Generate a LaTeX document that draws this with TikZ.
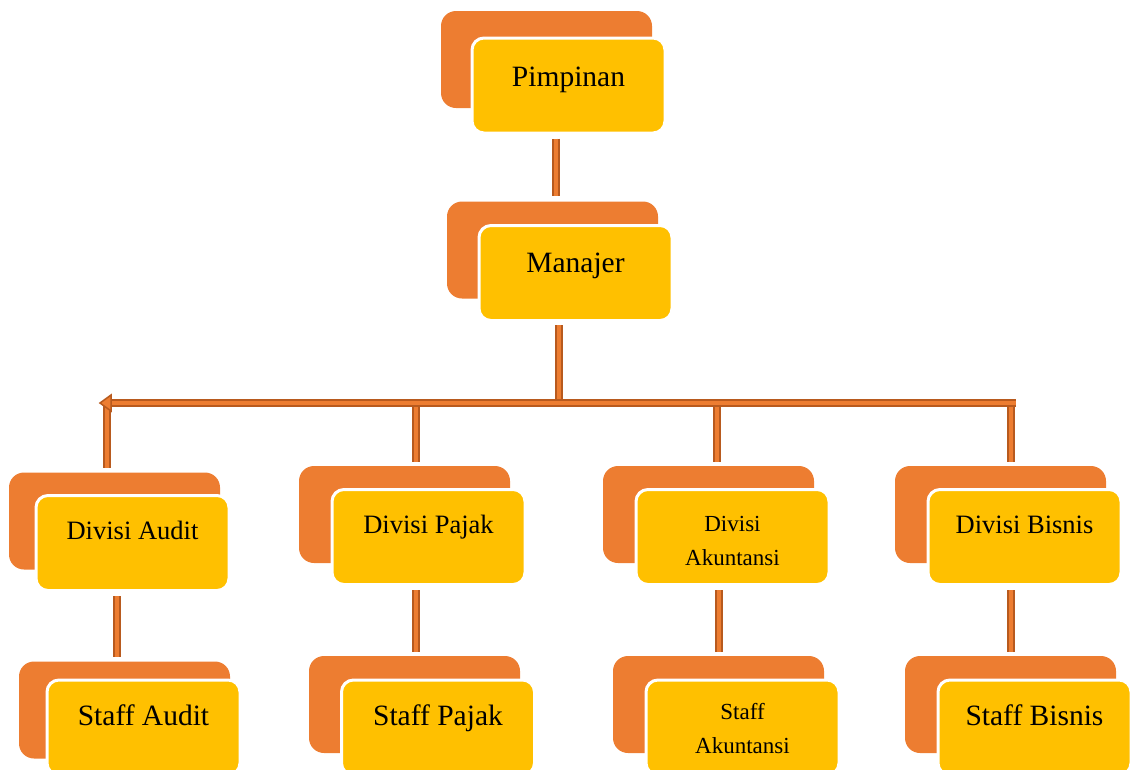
\documentclass[tikz,border=0pt]{standalone}
\usepackage{fontspec}
\setmainfont{Liberation Serif}
\definecolor{corange}{HTML}{ED7D31}
\definecolor{cyellow}{HTML}{FFC000}
\definecolor{cdark}{HTML}{B85A1E}
\begin{document}
\begin{tikzpicture}[x=1pt,y=-1pt,
  backbox/.style={rectangle, rounded corners=15pt, fill=corange, minimum width=211pt, minimum height=97pt, inner sep=0pt},
  frontbox/.style={rectangle, rounded corners=12pt, fill=cyellow, draw=white, line width=3pt, minimum width=193pt, minimum height=95pt, inner sep=0pt},
  lbl/.style={font=\fontsize{29.5}{34}\selectfont, text=black, inner sep=0pt},
  lbldiv/.style={font=\fontsize{26.5}{32}\selectfont, text=black, inner sep=0pt},
  lblsmall/.style={font=\fontsize{23}{34}\selectfont, text=black, inner sep=0pt, align=center},
  conn/.style={draw=cdark, line width=2pt, double=corange, double distance=3.5pt},
  hbar/.style={draw=cdark, line width=2pt, double=corange, double distance=4.5pt},
]
\useasboundingbox (0,0) rectangle (1130,769);
\clip (0,0) rectangle (1130,769);

% boxes
\node[backbox] (pimB) at (546.5,59.5) {};
\node[frontbox] (pimF) at (568.5,85.5) {};
\node[backbox] (manB) at (552.5,250) {};
\node[frontbox] (manF) at (575.5,273) {};

\node[backbox] (dAB) at (114.5,521) {};
\node[frontbox] (dAF) at (132.5,543) {};
\node[backbox] (dPB) at (404.5,514.5) {};
\node[frontbox] (dPF) at (428.5,537) {};
\node[backbox] (dKB) at (708.5,514.5) {};
\node[frontbox] (dKF) at (732.5,537) {};
\node[backbox] (dBB) at (1000.5,514.5) {};
\node[frontbox] (dBF) at (1024.5,537) {};

\node[backbox] (sAB) at (124.5,710) {};
\node[frontbox] (sAF) at (143.5,727.5) {};
\node[backbox] (sPB) at (414.5,704.5) {};
\node[frontbox] (sPF) at (438,727.5) {};
\node[backbox] (sKB) at (718.5,704.5) {};
\node[frontbox] (sKF) at (742.5,727.5) {};
\node[backbox] (sBB) at (1010.5,704.5) {};
\node[frontbox] (sBF) at (1034.5,727.5) {};

% labels
\node[lbl] (pimT) at ([yshift=5.5pt]pimF.center) {Pimpinan};
\node[lbl] (manT) at ([yshift=7pt]manF.center) {Manajer};
\node[lbldiv] (dAT) at ([yshift=13pt]dAF.center) {Divisi Audit};
\node[lbldiv] (dPT) at ([yshift=10pt]dPF.center) {Divisi Pajak};
\node[lblsmall] (dKT) at ([yshift=-4pt]dKF.center) {Divisi\\Akuntansi};
\node[lbldiv] (dBT) at ([yshift=12pt]dBF.center) {Divisi Bisnis};
\node[lbl] (sAT) at ([yshift=12.5pt]sAF.center) {Staff Audit};
\node[lbl] (sPT) at ([yshift=9.5pt]sPF.center) {Staff Pajak};
\node[lblsmall] (sKT) at ([yshift=-1pt]sKF.center) {Staff\\Akuntansi};
\node[lbl] (sBT) at ([yshift=12.5pt]sBF.center) {Staff Bisnis};

% connector columns
\coordinate (x1) at (556,0);
\coordinate (x2) at (559,0);
\coordinate (xa) at (107,0);
\coordinate (xp) at (416,0);
\coordinate (xk) at (717,0);
\coordinate (xb) at (1011,0);
\coordinate (xa2) at (117,0);
\coordinate (xk2) at (719,0);
\coordinate (barL) at (100,403);
\coordinate (barR) at (1016,403);

\draw[conn] ([yshift=-4pt]pimF.south -| x1) -- ([yshift=5pt]manB.north -| x1);
\draw[conn] ([yshift=-3pt]manF.south -| x2) -- (x2 |- barL);

\draw[conn] (barL -| xa) -- ([yshift=4pt]dAB.north -| xa);
\draw[conn] (barL -| xp) -- ([yshift=4pt]dPB.north -| xp);
\draw[conn] (barL -| xk) -- ([yshift=4pt]dKB.north -| xk);
\draw[conn] (barL -| xb) -- ([yshift=4pt]dBB.north -| xb);

\draw[hbar] (barR) -- ([xshift=9pt]barL);
\filldraw[fill=corange, draw=cdark, line width=1.5pt, line join=miter] (barL) -- ++(11,-8) -- ++(0,16) -- cycle;

\draw[conn] ([yshift=-4pt]dAF.south -| xa2) -- ([yshift=4pt]sAB.north -| xa2);
\draw[conn] ([yshift=-4pt]dPF.south -| xp) -- ([yshift=4pt]sPB.north -| xp);
\draw[conn] ([yshift=-4pt]dKF.south -| xk2) -- ([yshift=4pt]sKB.north -| xk2);
\draw[conn] ([yshift=-4pt]dBF.south -| xb) -- ([yshift=4pt]sBB.north -| xb);
\end{tikzpicture}
\end{document}
